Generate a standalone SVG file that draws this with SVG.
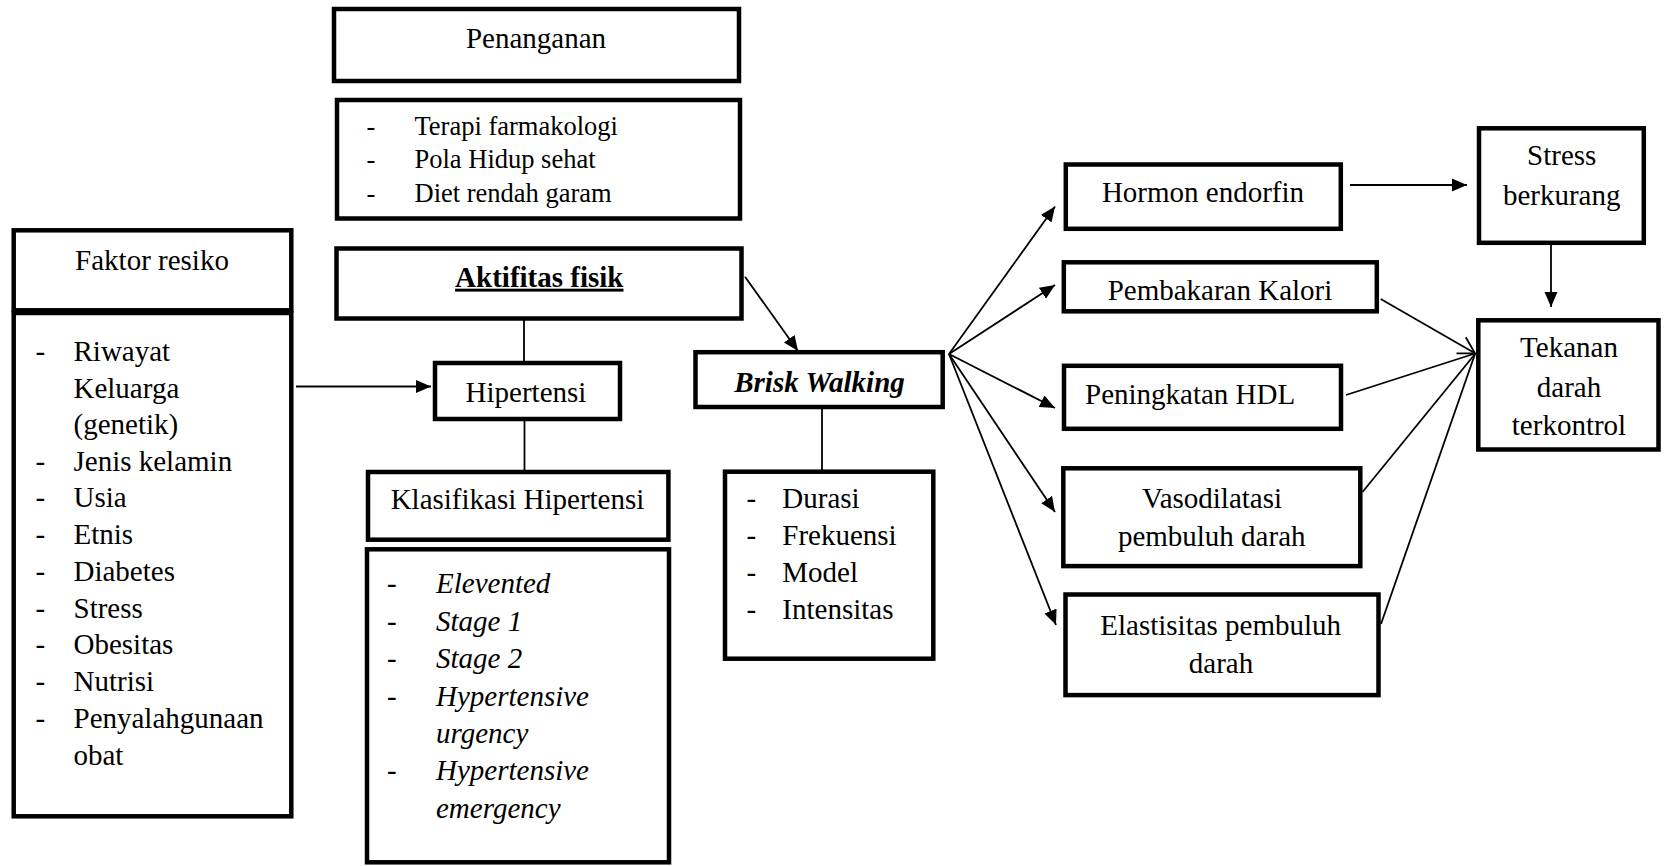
<svg xmlns="http://www.w3.org/2000/svg" width="1664" height="866" viewBox="0 0 1664 866">
<style>
.box{fill:#fff;stroke:#000;stroke-width:4.5}
.t{font-family:"Liberation Serif","Times New Roman",serif;font-size:29px;fill:#000}
.s{font-size:26.5px}
.m{text-anchor:middle}
.i{font-style:italic}
.b{font-weight:bold}
.c line{stroke:#000;stroke-width:1.8}
</style>
<defs>
<marker id="ar" markerUnits="userSpaceOnUse" markerWidth="16" markerHeight="14" viewBox="0 0 16 13" refX="15" refY="6.5" orient="auto">
<path d="M0,0 L15,6.5 L0,13 z" fill="#000"/>
</marker>
<marker id="op" markerUnits="userSpaceOnUse" markerWidth="22" markerHeight="22" viewBox="-19 -11 22 22" refX="0" refY="0" orient="auto" overflow="visible">
<path d="M-16,-9.3 L0,0 L-16,9.3" fill="none" stroke="#000" stroke-width="1.8"/>
</marker>
</defs>
<rect width="1664" height="866" fill="#fff"/>

<g id="connectors" class="c">
<line x1="296" y1="386.5" x2="431" y2="386.5" marker-end="url(#ar)"/>
<line x1="524" y1="320" x2="524" y2="362"/>
<line x1="524.5" y1="420" x2="524.5" y2="471"/>
<line x1="745" y1="276.7" x2="798" y2="351" marker-end="url(#ar)"/>
<line x1="822" y1="408" x2="822" y2="471"/>
<line x1="949" y1="354" x2="1055" y2="206.5" marker-end="url(#ar)"/>
<line x1="949" y1="354" x2="1055" y2="285" marker-end="url(#ar)"/>
<line x1="949" y1="354" x2="1055" y2="408" marker-end="url(#ar)"/>
<line x1="949" y1="354" x2="1055" y2="512" marker-end="url(#ar)"/>
<line x1="949" y1="354" x2="1056" y2="625" marker-end="url(#ar)"/>
<line x1="1350" y1="185" x2="1467" y2="185" marker-end="url(#ar)"/>
<line x1="1551" y1="245" x2="1551" y2="307" marker-end="url(#ar)"/>
<line x1="1380.7" y1="299" x2="1475" y2="353.3" marker-end="url(#op)"/>
<line x1="1346" y1="395" x2="1475" y2="353.5"/>
<line x1="1362.5" y1="492" x2="1475" y2="354"/>
<line x1="1381" y1="624" x2="1475" y2="354"/>
</g>

<g id="penanganan">
<rect class="box" x="334" y="9" width="405" height="72"/>
<text class="t m" x="536" y="48.3">Penanganan</text>
</g>

<g id="penanganan-list">
<rect class="box" x="337" y="100" width="403" height="118.5"/>
<text class="t s" x="366.6" y="135">-</text>
<text class="t s" x="414.5" y="135">Terapi farmakologi</text>
<text class="t s" x="366.6" y="168.3">-</text>
<text class="t s" x="414.5" y="168.3">Pola Hidup sehat</text>
<text class="t s" x="366.6" y="201.7">-</text>
<text class="t s" x="414.5" y="201.7">Diet rendah garam</text>
</g>

<g id="aktifitas">
<rect class="box" x="336.5" y="248.5" width="405" height="70"/>
<text class="t m b" x="539.3" y="286.7" text-decoration="underline">Aktifitas fisik</text>
</g>

<g id="faktor">
<rect class="box" x="13.7" y="230.3" width="277.6" height="80"/>
<text class="t m" x="152" y="270">Faktor resiko</text>
</g>

<g id="faktor-list">
<rect class="box" x="13.7" y="313" width="277.6" height="503.3"/>
<text class="t" x="35.6" y="361">-</text>
<text class="t" x="73.5" y="361">Riwayat</text>
<text class="t" x="73.5" y="397.5">Keluarga</text>
<text class="t" x="73.5" y="434">(genetik)</text>
<text class="t" x="35.6" y="470.5">-</text>
<text class="t" x="73.5" y="470.5">Jenis kelamin</text>
<text class="t" x="35.6" y="507.3">-</text>
<text class="t" x="73.5" y="507.3">Usia</text>
<text class="t" x="35.6" y="544">-</text>
<text class="t" x="73.5" y="544">Etnis</text>
<text class="t" x="35.6" y="580.8">-</text>
<text class="t" x="73.5" y="580.8">Diabetes</text>
<text class="t" x="35.6" y="617.6">-</text>
<text class="t" x="73.5" y="617.6">Stress</text>
<text class="t" x="35.6" y="654.4">-</text>
<text class="t" x="73.5" y="654.4">Obesitas</text>
<text class="t" x="35.6" y="691.2">-</text>
<text class="t" x="73.5" y="691.2">Nutrisi</text>
<text class="t" x="35.6" y="728">-</text>
<text class="t" x="73.5" y="728">Penyalahgunaan</text>
<text class="t" x="73.5" y="764.8">obat</text>
</g>

<g id="hipertensi">
<rect class="box" x="435" y="363" width="185" height="56"/>
<text class="t m" x="526" y="401.7">Hipertensi</text>
</g>

<g id="klasifikasi">
<rect class="box" x="368" y="472" width="300.4" height="67.7"/>
<text class="t m" x="517.5" y="509.3">Klasifikasi Hipertensi</text>
</g>

<g id="klasifikasi-list">
<rect class="box" x="367" y="549.3" width="302" height="313"/>
<text class="t" x="387" y="593.3">-</text>
<text class="t i" x="436" y="593.3">Elevented</text>
<text class="t" x="387" y="630.7">-</text>
<text class="t i" x="436" y="630.7">Stage 1</text>
<text class="t" x="387" y="668.1">-</text>
<text class="t i" x="436" y="668.1">Stage 2</text>
<text class="t" x="387" y="705.5">-</text>
<text class="t i" x="436" y="705.5">Hypertensive</text>
<text class="t i" x="436" y="742.9">urgency</text>
<text class="t" x="387" y="780.3">-</text>
<text class="t i" x="436" y="780.3">Hypertensive</text>
<text class="t i" x="436" y="817.7">emergency</text>
</g>

<g id="brisk">
<rect class="box" x="695.5" y="352.2" width="247.2" height="54.8"/>
<text class="t m b i" x="819.5" y="391.7">Brisk Walking</text>
</g>

<g id="brisk-list">
<rect class="box" x="725" y="471.7" width="208.3" height="187"/>
<text class="t" x="746.5" y="508">-</text>
<text class="t" x="782.3" y="508">Durasi</text>
<text class="t" x="746.5" y="545">-</text>
<text class="t" x="782.3" y="545">Frekuensi</text>
<text class="t" x="746.5" y="582">-</text>
<text class="t" x="782.3" y="582">Model</text>
<text class="t" x="746.5" y="619">-</text>
<text class="t" x="782.3" y="619">Intensitas</text>
</g>

<g id="hormon">
<rect class="box" x="1065.8" y="164.5" width="275" height="64.3"/>
<text class="t m" x="1203" y="202.4">Hormon endorfin</text>
</g>

<g id="pembakaran">
<rect class="box" x="1063.8" y="262.3" width="313" height="49"/>
<text class="t m" x="1220" y="299.6">Pembakaran Kalori</text>
</g>

<g id="hdl">
<rect class="box" x="1064" y="365.8" width="277" height="63"/>
<text class="t" x="1085" y="403.6">Peningkatan HDL</text>
</g>

<g id="vasodilatasi">
<rect class="box" x="1063.3" y="468.3" width="297" height="97.8"/>
<text class="t m" x="1212" y="507.5">Vasodilatasi</text>
<text class="t m" x="1211.7" y="545.5">pembuluh darah</text>
</g>

<g id="elastisitas">
<rect class="box" x="1065.5" y="594.5" width="313" height="100.6"/>
<text class="t m" x="1220.7" y="634.5">Elastisitas pembuluh</text>
<text class="t m" x="1221" y="672.5">darah</text>
</g>

<g id="stress">
<rect class="box" x="1479" y="128.3" width="164.8" height="114.5"/>
<text class="t m" x="1561.7" y="165">Stress</text>
<text class="t m" x="1561.7" y="205">berkurang</text>
</g>

<g id="tekanan">
<rect class="box" x="1478.3" y="320.3" width="180.2" height="129.2"/>
<text class="t m" x="1569" y="356.7">Tekanan</text>
<text class="t m" x="1569" y="396.7">darah</text>
<text class="t m" x="1569" y="435">terkontrol</text>
</g>
</svg>
